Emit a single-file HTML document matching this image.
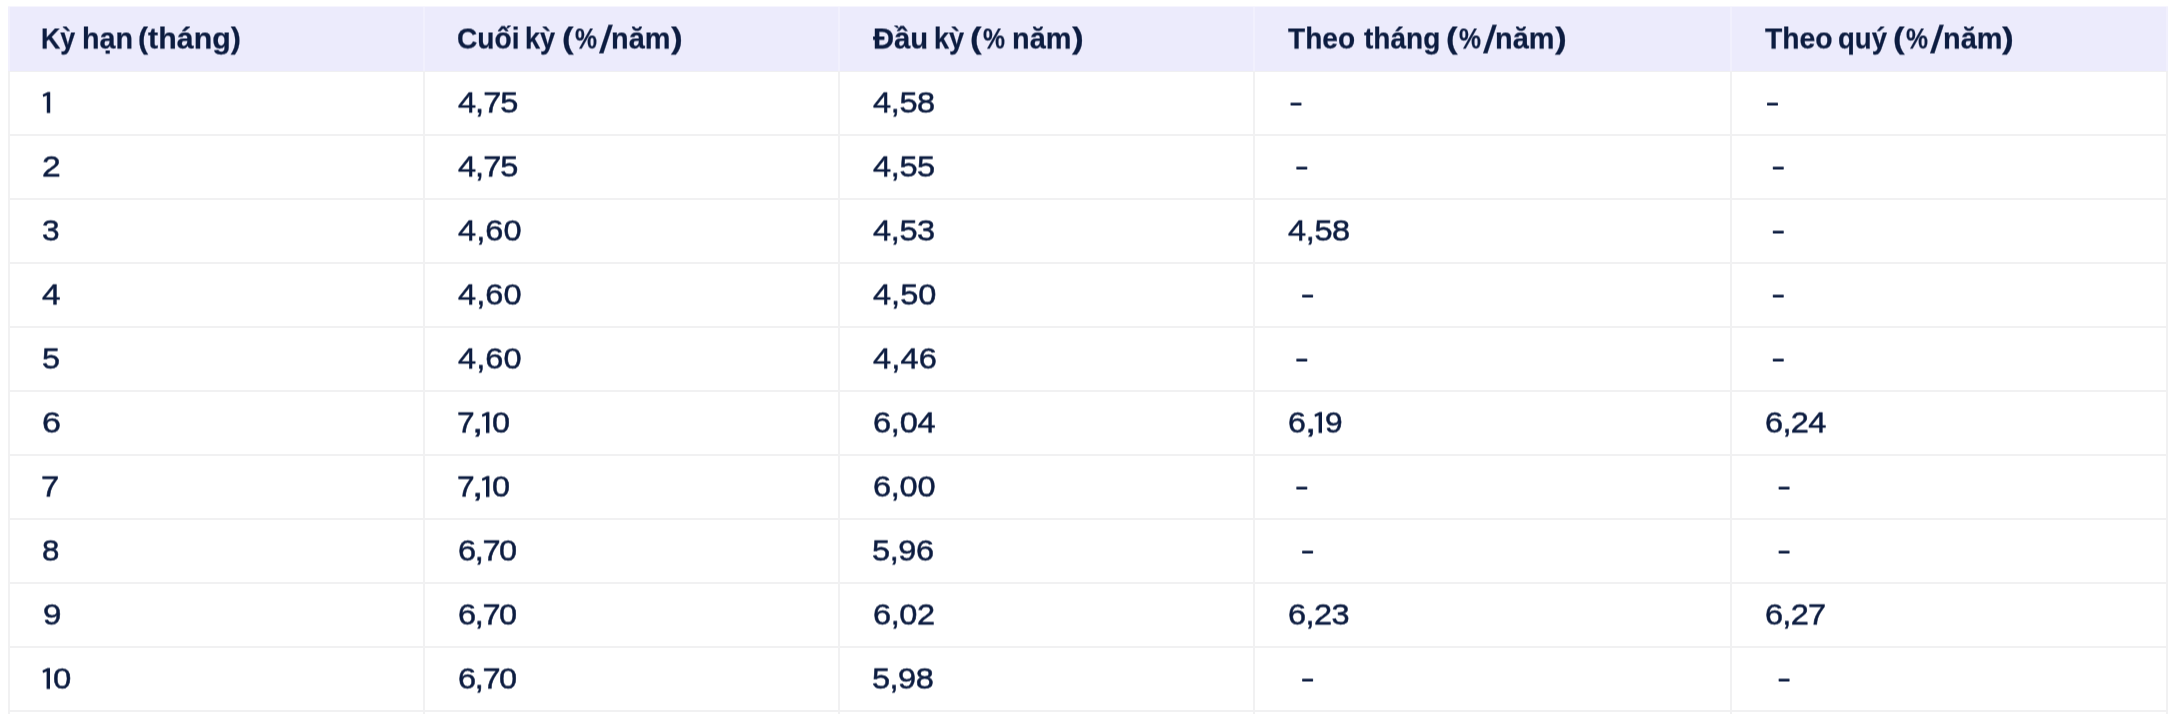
<!DOCTYPE html>
<html><head><meta charset="utf-8"><title>Lãi suất</title>
<style>
html,body{margin:0;padding:0;background:#fff;}
body{width:2176px;height:714px;overflow:hidden;position:relative;font-family:"Liberation Sans",sans-serif;color:#0c1c40;}
.hd{position:absolute;left:8px;top:7px;width:2160px;height:64px;background:#ecebfc;}
.v{position:absolute;top:7px;width:2px;height:707px;background:#f1f1f2;}
.vh{position:absolute;top:7px;width:2px;height:64px;background:#f1f0fd;}
.hl{position:absolute;left:8px;width:2160px;height:2px;background:#f1f1f2;}
.tx{position:absolute;left:0;top:0;width:2176px;height:714px;will-change:transform;filter:url(#vs);}
.t{position:absolute;white-space:pre;transform-origin:0 50%;display:block;}
.h{font-weight:bold;-webkit-text-stroke:0.25px #0c1c40;}
.n{-webkit-text-stroke:0.5px #0c1c40;}
.o{position:absolute;left:0;top:0;fill:#0c1c40;}
.d{position:absolute;width:11px;height:2.7px;background:#0c1c40;border-radius:0.6px;}
</style></head><body>
<svg width="0" height="0" style="position:absolute"><defs><filter id="vs" x="0" y="0" width="100%" height="100%" color-interpolation-filters="sRGB"><feConvolveMatrix order="1 2" kernelMatrix="0.5 0.5" targetX="0" targetY="0" edgeMode="none" preserveAlpha="false"/></filter></defs></svg>
<div class="hd"></div>
<div class="v" style="left:8px"></div>
<div class="v" style="left:423px"></div>
<div class="v" style="left:838px"></div>
<div class="v" style="left:1253px"></div>
<div class="v" style="left:1730px"></div>
<div class="v" style="left:2166px"></div>
<div class="vh" style="left:8px"></div>
<div class="vh" style="left:423px"></div>
<div class="vh" style="left:838px"></div>
<div class="vh" style="left:1253px"></div>
<div class="vh" style="left:1730px"></div>
<div class="vh" style="left:2166px"></div>
<div class="hl" style="top:134px"></div>
<div class="hl" style="top:198px"></div>
<div class="hl" style="top:262px"></div>
<div class="hl" style="top:326px"></div>
<div class="hl" style="top:390px"></div>
<div class="hl" style="top:454px"></div>
<div class="hl" style="top:518px"></div>
<div class="hl" style="top:582px"></div>
<div class="hl" style="top:646px"></div>
<div class="hl" style="top:710px"></div>
<div class="hl" style="top:71px;height:1px;background:#f0f0f2"></div>
<div class="hl" style="top:6px;height:1px;background:#f6f5fe"></div>
<div class="tx">
<span class="t h" style="left:561.90px;top:21.99px;font-size:30.4px;line-height:33.957px;transform:scaleX(1.1513);">(</span>
<span class="t h" style="left:575.01px;top:21.99px;font-size:30.4px;line-height:33.957px;transform:scaleX(0.8127);">%</span>
<span class="t h" style="left:601.00px;top:21.99px;font-size:30.4px;line-height:33.957px;transform:translateY(1.5px) skewX(-9.0deg) scale(1.14,1.25);">/</span>
<span class="t h" style="left:611.27px;top:21.99px;font-size:30.4px;line-height:33.957px;transform:scaleX(0.9510);">năm</span>
<span class="t h" style="left:671.10px;top:21.99px;font-size:30.4px;line-height:33.957px;transform:scaleX(1.1570);">)</span>
<span class="t h" style="left:1445.80px;top:21.99px;font-size:30.4px;line-height:33.957px;transform:scaleX(1.1513);">(</span>
<span class="t h" style="left:1458.91px;top:21.99px;font-size:30.4px;line-height:33.957px;transform:scaleX(0.8127);">%</span>
<span class="t h" style="left:1484.90px;top:21.99px;font-size:30.4px;line-height:33.957px;transform:translateY(1.5px) skewX(-9.0deg) scale(1.14,1.25);">/</span>
<span class="t h" style="left:1495.17px;top:21.99px;font-size:30.4px;line-height:33.957px;transform:scaleX(0.9510);">năm</span>
<span class="t h" style="left:1555.00px;top:21.99px;font-size:30.4px;line-height:33.957px;transform:scaleX(1.1570);">)</span>
<span class="t h" style="left:1893.20px;top:21.99px;font-size:30.4px;line-height:33.957px;transform:scaleX(1.1513);">(</span>
<span class="t h" style="left:1906.31px;top:21.99px;font-size:30.4px;line-height:33.957px;transform:scaleX(0.8127);">%</span>
<span class="t h" style="left:1932.30px;top:21.99px;font-size:30.4px;line-height:33.957px;transform:translateY(1.5px) skewX(-9.0deg) scale(1.14,1.25);">/</span>
<span class="t h" style="left:1942.57px;top:21.99px;font-size:30.4px;line-height:33.957px;transform:scaleX(0.9510);">năm</span>
<span class="t h" style="left:2002.40px;top:21.99px;font-size:30.4px;line-height:33.957px;transform:scaleX(1.1570);">)</span>
<span class="t h" style="left:970.30px;top:21.99px;font-size:30.4px;line-height:33.957px;transform:scaleX(1.1513);">(</span>
<span class="t h" style="left:983.41px;top:21.99px;font-size:30.4px;line-height:33.957px;transform:scaleX(0.8127);">%</span>
<span class="t h" style="left:1011.77px;top:21.99px;font-size:30.4px;line-height:33.957px;transform:scaleX(0.9510);">năm</span>
<span class="t h" style="left:1071.60px;top:21.99px;font-size:30.4px;line-height:33.957px;transform:scaleX(1.1570);">)</span>
<span class="t h" style="left:41.09px;top:21.99px;font-size:30.4px;line-height:33.957px;transform:scaleX(0.8828);">Kỳ</span>
<span class="t h" style="left:81.68px;top:21.99px;font-size:30.4px;line-height:33.957px;transform:scaleX(0.9450);">hạn</span>
<span class="t h" style="left:138.18px;top:21.99px;font-size:30.4px;line-height:33.957px;transform:scaleX(0.9994);">(tháng)</span>
<span class="t h" style="left:457.27px;top:21.99px;font-size:30.4px;line-height:33.957px;transform:scaleX(0.9259);">Cuối</span>
<span class="t h" style="left:525.17px;top:21.99px;font-size:30.4px;line-height:33.957px;transform:scaleX(0.8939);">kỳ</span>
<span class="t h" style="left:872.90px;top:21.99px;font-size:30.4px;line-height:33.957px;transform:scaleX(0.9608);">Đầu</span>
<span class="t h" style="left:933.68px;top:21.99px;font-size:30.4px;line-height:33.957px;transform:scaleX(0.8908);">kỳ</span>
<span class="t h" style="left:1288.22px;top:21.99px;font-size:30.4px;line-height:33.957px;transform:scaleX(0.9233);">Theo</span>
<span class="t h" style="left:1364.42px;top:21.99px;font-size:30.4px;line-height:33.957px;transform:scaleX(0.9220);">tháng</span>
<span class="t h" style="left:1764.62px;top:21.99px;font-size:30.4px;line-height:33.957px;transform:scaleX(0.9303);">Theo</span>
<span class="t h" style="left:1838.20px;top:21.99px;font-size:30.4px;line-height:33.957px;transform:scaleX(0.9066);">quý</span>
<span class="t n" style="left:457.95px;top:85.99px;font-size:30.4px;line-height:33.957px;transform:scaleX(1.0700);letter-spacing:-0.898px;">4,75</span>
<span class="t n" style="left:873.05px;top:85.99px;font-size:30.4px;line-height:33.957px;transform:scaleX(1.0700);letter-spacing:-0.337px;">4,58</span>
<span class="t n" style="left:41.72px;top:149.99px;font-size:30.4px;line-height:33.957px;transform:scaleX(1.1084);">2</span>
<span class="t n" style="left:457.95px;top:149.99px;font-size:30.4px;line-height:33.957px;transform:scaleX(1.0700);letter-spacing:-0.898px;">4,75</span>
<span class="t n" style="left:873.05px;top:149.99px;font-size:30.4px;line-height:33.957px;transform:scaleX(1.0700);letter-spacing:-0.337px;">4,55</span>
<span class="t n" style="left:42.45px;top:213.99px;font-size:30.4px;line-height:33.957px;transform:scaleX(1.0405);">3</span>
<span class="t n" style="left:457.95px;top:213.99px;font-size:30.4px;line-height:33.957px;transform:scaleX(1.0700);letter-spacing:0.099px;">4,60</span>
<span class="t n" style="left:873.05px;top:213.99px;font-size:30.4px;line-height:33.957px;transform:scaleX(1.0700);letter-spacing:-0.337px;">4,53</span>
<span class="t n" style="left:1288.05px;top:213.99px;font-size:30.4px;line-height:33.957px;transform:scaleX(1.0700);letter-spacing:-0.337px;">4,58</span>
<span class="t n" style="left:42.33px;top:277.99px;font-size:30.4px;line-height:33.957px;transform:scaleX(1.0965);">4</span>
<span class="t n" style="left:457.95px;top:277.99px;font-size:30.4px;line-height:33.957px;transform:scaleX(1.0700);letter-spacing:0.099px;">4,60</span>
<span class="t n" style="left:873.05px;top:277.99px;font-size:30.4px;line-height:33.957px;transform:scaleX(1.0700);letter-spacing:0.037px;">4,50</span>
<span class="t n" style="left:42.21px;top:341.99px;font-size:30.4px;line-height:33.957px;transform:scaleX(1.0622);">5</span>
<span class="t n" style="left:457.95px;top:341.99px;font-size:30.4px;line-height:33.957px;transform:scaleX(1.0700);letter-spacing:0.099px;">4,60</span>
<span class="t n" style="left:873.05px;top:341.99px;font-size:30.4px;line-height:33.957px;transform:scaleX(1.0700);letter-spacing:0.192px;">4,46</span>
<span class="t n" style="left:41.80px;top:405.99px;font-size:30.4px;line-height:33.957px;transform:scaleX(1.1198);">6</span>
<span class="t n" style="left:456.81px;top:405.99px;font-size:30.4px;line-height:33.957px;transform:scaleX(1.0441);">7</span>
<span class="t n" style="left:472.23px;top:405.99px;font-size:30.4px;line-height:33.957px;transform:scaleX(1.3457);">,</span>
<span class="t n" style="left:491.93px;top:405.99px;font-size:30.4px;line-height:33.957px;transform:scaleX(1.0674);">0</span>
<span class="t n" style="left:872.77px;top:405.99px;font-size:30.4px;line-height:33.957px;transform:scaleX(1.0700);letter-spacing:-0.197px;">6,04</span>
<span class="t n" style="left:1287.89px;top:405.99px;font-size:30.4px;line-height:33.957px;transform:scaleX(1.0568);">6</span>
<span class="t n" style="left:1304.73px;top:405.99px;font-size:30.4px;line-height:33.957px;transform:scaleX(1.3457);">,</span>
<span class="t n" style="left:1324.63px;top:405.99px;font-size:30.4px;line-height:33.957px;transform:scaleX(1.0428);">9</span>
<span class="t n" style="left:1764.77px;top:405.99px;font-size:30.4px;line-height:33.957px;transform:scaleX(1.0700);letter-spacing:-0.633px;">6,24</span>
<span class="t n" style="left:41.36px;top:469.99px;font-size:30.4px;line-height:33.957px;transform:scaleX(1.0798);">7</span>
<span class="t n" style="left:456.81px;top:469.99px;font-size:30.4px;line-height:33.957px;transform:scaleX(1.0441);">7</span>
<span class="t n" style="left:472.23px;top:469.99px;font-size:30.4px;line-height:33.957px;transform:scaleX(1.3457);">,</span>
<span class="t n" style="left:491.93px;top:469.99px;font-size:30.4px;line-height:33.957px;transform:scaleX(1.0674);">0</span>
<span class="t n" style="left:872.77px;top:469.99px;font-size:30.4px;line-height:33.957px;transform:scaleX(1.0700);letter-spacing:-0.251px;">6,00</span>
<span class="t n" style="left:42.25px;top:533.99px;font-size:30.4px;line-height:33.957px;transform:scaleX(1.0280);">8</span>
<span class="t n" style="left:457.67px;top:533.99px;font-size:30.4px;line-height:33.957px;transform:scaleX(1.0700);letter-spacing:-1.279px;">6,70</span>
<span class="t n" style="left:872.40px;top:533.99px;font-size:30.4px;line-height:33.957px;transform:scaleX(1.0700);letter-spacing:-0.353px;">5,96</span>
<span class="t n" style="left:42.57px;top:597.99px;font-size:30.4px;line-height:33.957px;transform:scaleX(1.0918);">9</span>
<span class="t n" style="left:457.67px;top:597.99px;font-size:30.4px;line-height:33.957px;transform:scaleX(1.0700);letter-spacing:-1.279px;">6,70</span>
<span class="t n" style="left:872.77px;top:597.99px;font-size:30.4px;line-height:33.957px;transform:scaleX(1.0700);letter-spacing:-0.368px;">6,02</span>
<span class="t n" style="left:1287.77px;top:597.99px;font-size:30.4px;line-height:33.957px;transform:scaleX(1.0700);letter-spacing:-0.563px;">6,23</span>
<span class="t n" style="left:1764.77px;top:597.99px;font-size:30.4px;line-height:33.957px;transform:scaleX(1.0700);letter-spacing:-0.680px;">6,27</span>
<span class="t n" style="left:52.91px;top:661.99px;font-size:30.4px;line-height:33.957px;transform:scaleX(1.0808);">0</span>
<span class="t n" style="left:457.67px;top:661.99px;font-size:30.4px;line-height:33.957px;transform:scaleX(1.0700);letter-spacing:-1.279px;">6,70</span>
<span class="t n" style="left:872.40px;top:661.99px;font-size:30.4px;line-height:33.957px;transform:scaleX(1.0700);letter-spacing:-0.477px;">5,98</span>
<svg class="o" width="2176" height="714" viewBox="0 0 2176 714">
<path transform="translate(42.70 92.60)" d="M5.1 0H7.5V20.8H4.1V3.5L0.5 4.9L0 2.5Z"/>
<path transform="translate(481.90 412.60)" d="M5.1 0H7.5V20.8H4.1V3.5L0.5 4.9L0 2.5Z"/>
<path transform="translate(1314.50 412.60)" d="M5.1 0H7.5V20.8H4.1V3.5L0.5 4.9L0 2.5Z"/>
<path transform="translate(481.90 476.60)" d="M5.1 0H7.5V20.8H4.1V3.5L0.5 4.9L0 2.5Z"/>
<path transform="translate(42.50 668.60)" d="M5.1 0H7.5V20.8H4.1V3.5L0.5 4.9L0 2.5Z"/>
<rect x="1290.50" y="103.20" width="11" height="2.7" rx="0.6"/>
<rect x="1767.00" y="103.20" width="11" height="2.7" rx="0.6"/>
<rect x="1296.30" y="167.20" width="11" height="2.7" rx="0.6"/>
<rect x="1772.80" y="167.20" width="11" height="2.7" rx="0.6"/>
<rect x="1772.80" y="231.20" width="11" height="2.7" rx="0.6"/>
<rect x="1302.10" y="295.20" width="11" height="2.7" rx="0.6"/>
<rect x="1772.80" y="295.20" width="11" height="2.7" rx="0.6"/>
<rect x="1296.30" y="359.20" width="11" height="2.7" rx="0.6"/>
<rect x="1772.80" y="359.20" width="11" height="2.7" rx="0.6"/>
<rect x="1296.30" y="487.20" width="11" height="2.7" rx="0.6"/>
<rect x="1778.60" y="487.20" width="11" height="2.7" rx="0.6"/>
<rect x="1302.10" y="551.20" width="11" height="2.7" rx="0.6"/>
<rect x="1778.60" y="551.20" width="11" height="2.7" rx="0.6"/>
<rect x="1302.10" y="679.20" width="11" height="2.7" rx="0.6"/>
<rect x="1778.60" y="679.20" width="11" height="2.7" rx="0.6"/>
</svg>
</div>
</body></html>
